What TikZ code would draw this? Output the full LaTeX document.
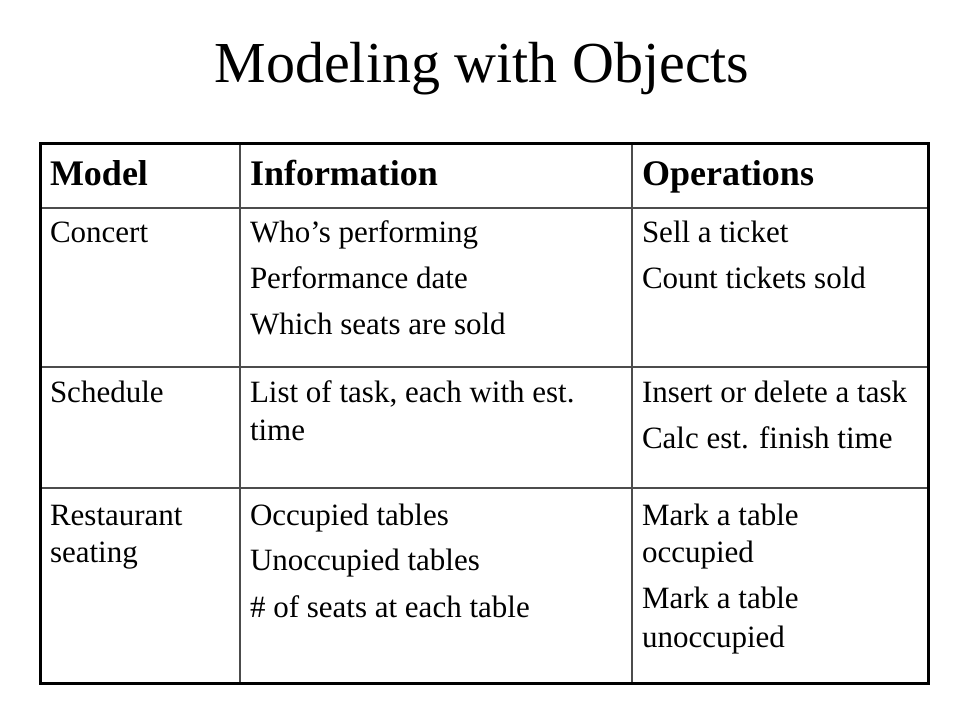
\documentclass[tikz,border=0pt]{standalone}
\usepackage{fontspec}
\setmainfont{Liberation Serif}

\begin{document}
\begin{tikzpicture}[x=1pt, y=-1pt,
  every node/.style={anchor=base west, inner sep=0pt, outer sep=0pt},
  cell/.style={font=\fontsize{31}{37}\selectfont},
  head/.style={font=\fontsize{36}{43}\selectfont\bfseries},
  rule/.style={line width=1.2pt, color=black!70}]
\useasboundingbox (0,0) rectangle (960,720);

\node[anchor=base, font=\fontsize{58}{70}\selectfont] (title) at (482,82) {Modeling with Objects};

\node[head] (hmodel) at (50,185) {Model};
\node[head] (hinfo) at (250,185) {Information};
\node[head] (hops) at (642,185) {Operations};

\node[cell] (concert) at (50,242) {Concert};
\node[cell] (info1a) at (250,242) {Who's performing};
\node[cell] (info1b) at (250,288) {Performance date};
\node[cell] (info1c) at (250,334) {Which seats are sold};
\node[cell] (ops1a) at (642,242) {Sell a ticket};
\node[cell] (ops1b) at (642,288) {Count tickets sold};

\node[cell] (schedule) at (50,402) {Schedule};
\node[cell] (info2a) at (250,402) {List of task, each with est.};
\node[cell] (info2b) at (250,440) {time};
\node[cell] (ops2a) at (642,402) {Insert or delete a task};
\node[cell] (ops2b) at (642,448) {Calc est. finish time};

\node[cell] (rest1) at (50,525) {Restaurant};
\node[cell] (rest2) at (50,562) {seating};
\node[cell] (info3a) at (250,525) {Occupied tables};
\node[cell] (info3b) at (250,570) {Unoccupied tables};
\node[cell] (info3c) at (250,617) {\# of seats at each table};
\node[cell] (ops3a) at (642,525) {Mark a table};
\node[cell] (ops3b) at (642,562) {occupied};
\node[cell] (ops3c) at (642,608) {Mark a table};
\node[cell] (ops3d) at (642,647) {unoccupied};

\draw[rule] (40,208) -- (928,208);
\draw[rule] (40,367) -- (928,367);
\draw[rule] (40,488) -- (928,488);
\draw[rule] (240,143) -- (240,683);
\draw[rule] (632,143) -- (632,683);
\draw[line width=3pt] (40,143) rectangle (928,683);
\end{tikzpicture}
\end{document}
